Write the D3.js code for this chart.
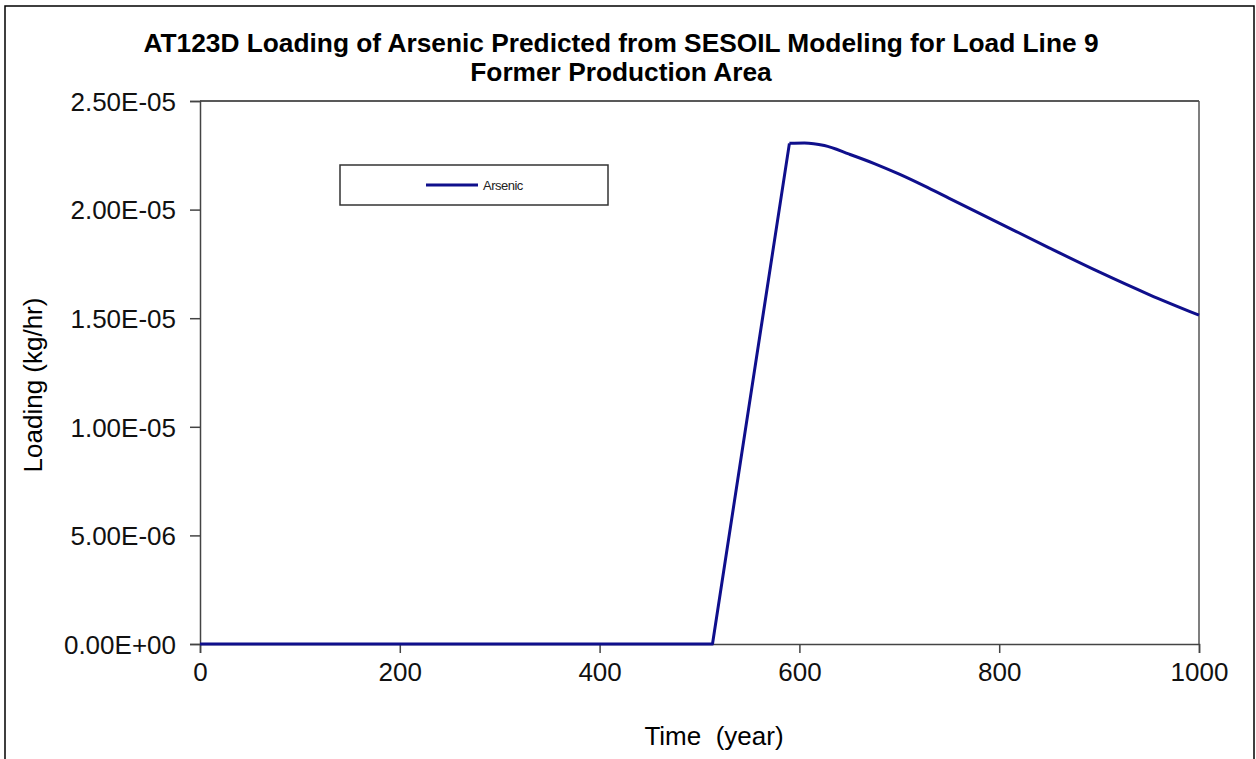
<html>
<head>
<script src="https://d3js.org/d3.v7.min.js"></script>
<style>
body { margin: 0; background: #fff; }
text { font-family: Arial, "Liberation Sans", sans-serif; }
</style>
</head>
<body>
<div id="chart"></div>
<script>
var width = 1256, height = 759;
var margin = { left: 200, right: 57, top: 101, bottom: 115 };

// Values: year, loading (kg/hr)
var years = [0, 513, 590, 605, 625, 650, 675, 700, 725, 750, 800, 850, 900, 950, 1000];
var arsenic = [0, 0, 2.305e-5, 2.307e-5, 2.295e-5, 2.255e-5, 2.212e-5, 2.163e-5, 2.109e-5, 2.052e-5, 1.938e-5, 1.824e-5, 1.713e-5, 1.609e-5, 1.514e-5];
var xTicks = [0, 200, 400, 600, 800, 1000];
var yTicks = [0, 5e-6, 1e-5, 1.5e-5, 2e-5, 2.5e-5];

var svg = d3.select("#chart").append("svg")
  .attr("width", width).attr("height", height);

svg.append("rect").attr("x", 5).attr("y", 6)
  .attr("width", 1249).attr("height", 760)
  .style("fill", "none").style("stroke", "#000").style("stroke-width", 1.5);

var x = d3.scaleLinear().domain([0, 1000]).range([margin.left, width - margin.right]);
var y = d3.scaleLinear().domain([0, 2.5e-5]).range([height - margin.bottom, margin.top]);

// plot frame
svg.append("line").attr("x1", x(0)).attr("x2", x(1000)).attr("y1", y(2.5e-5)).attr("y2", y(2.5e-5))
  .style("stroke", "#222").style("stroke-width", 1.5);
svg.append("line").attr("x1", x(1000)).attr("x2", x(1000)).attr("y1", y(2.5e-5)).attr("y2", y(0))
  .style("stroke", "#555").style("stroke-width", 1.5);

var xAxis = svg.append("g").attr("transform", "translate(0," + y(0) + ")")
  .call(d3.axisBottom(x).tickValues(xTicks).tickSize(9).tickPadding(10).tickFormat(d3.format("d")));
var yAxis = svg.append("g").attr("transform", "translate(" + x(0) + ",0)")
  .call(d3.axisLeft(y).tickValues(yTicks).tickSize(10).tickPadding(14)
    .tickFormat(function (d) { return d.toExponential(2).toUpperCase().replace(/E([+-])(\d)$/, "E$10$2"); }));

[xAxis, yAxis].forEach(function (g) {
  g.select(".domain").style("stroke", "#444").style("stroke-width", 1.5);
  g.selectAll(".tick line").style("stroke", "#444").style("stroke-width", 1.5);
  g.selectAll(".tick text").style("font-size", "26px").style("fill", "#111")
    .style("font-family", "Arial, 'Liberation Sans', sans-serif");
});
yAxis.selectAll(".tick text").attr("dy", "0.36em");

var pts = years.map(function (t, i) { return [t, arsenic[i]]; });
var rise = d3.line().x(function (d) { return x(d[0]); }).y(function (d) { return y(d[1]); });
var fall = d3.line().x(function (d) { return x(d[0]); }).y(function (d) { return y(d[1]); })
  .curve(d3.curveMonotoneX);

svg.append("path").attr("d", rise(pts.slice(0, 3)))
  .style("fill", "none").style("stroke", "#0f0f8c").style("stroke-width", 3)
  .style("stroke-linejoin", "round");
svg.append("path").attr("d", fall(pts.slice(2)))
  .style("fill", "none").style("stroke", "#0f0f8c").style("stroke-width", 3)
  .style("stroke-linejoin", "round");

// title
svg.append("text").attr("x", 621).attr("y", 52).attr("text-anchor", "middle")
  .style("font-size", "26.3px").style("font-weight", "bold")
  .text("AT123D Loading of Arsenic Predicted from SESOIL Modeling for Load Line 9");
svg.append("text").attr("x", 621).attr("y", 81).attr("text-anchor", "middle")
  .style("font-size", "26.3px").style("font-weight", "bold")
  .text("Former Production Area");

// axis titles
svg.append("text").attr("x", 714).attr("y", 745).attr("text-anchor", "middle")
  .style("font-size", "26px").style("white-space", "pre").text("Time  (year)");
svg.append("text").attr("transform", "translate(42,385) rotate(-90)").attr("text-anchor", "middle")
  .style("font-size", "26px").text("Loading (kg/hr)");

// legend
var legend = svg.append("g");
legend.append("rect").attr("x", 340).attr("y", 165).attr("width", 268).attr("height", 40)
  .style("fill", "#fff").style("stroke", "#333").style("stroke-width", 1.5);
legend.append("line").attr("x1", 426).attr("x2", 478).attr("y1", 185).attr("y2", 185)
  .style("stroke", "#0f0f8c").style("stroke-width", 3);
legend.append("text").attr("x", 483).attr("y", 190)
  .style("font-size", "13px").style("fill", "#222").style("letter-spacing", "-0.5px").text("Arsenic");
</script>
</body>
</html>
